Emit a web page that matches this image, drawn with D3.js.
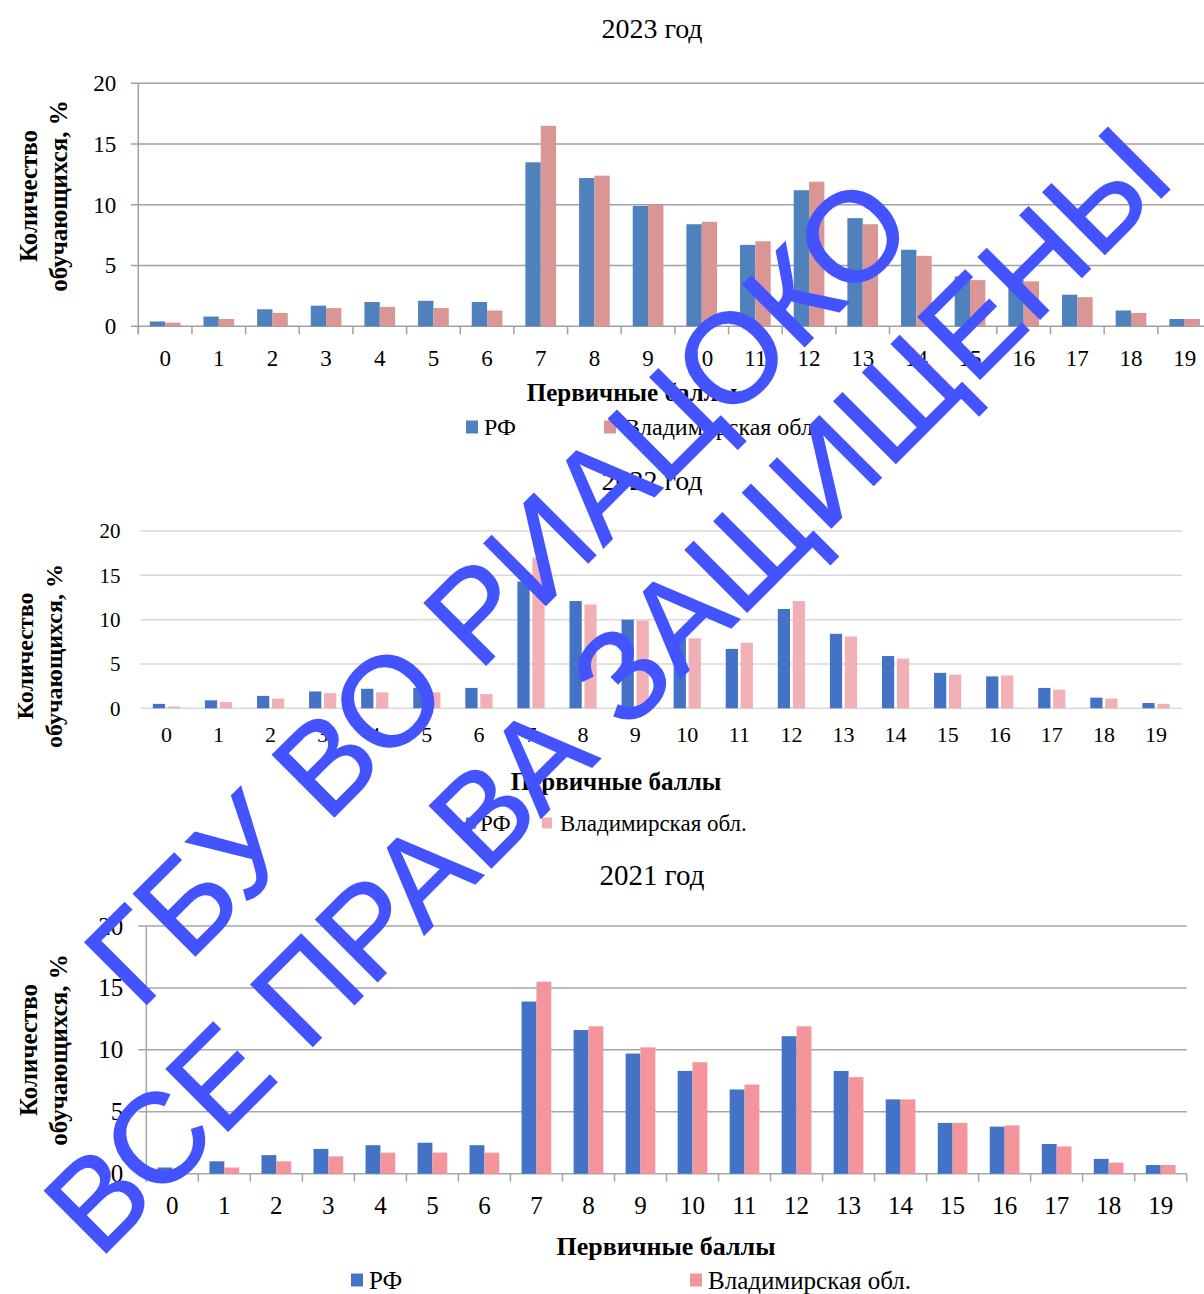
<!DOCTYPE html>
<html>
<head>
<meta charset="utf-8">
<script src="https://cdn.jsdelivr.net/npm/d3@7"></script>
<style>
  html, body { margin: 0; padding: 0; background: #fff; }
  svg { display: block; }
  text { font-family: "Liberation Serif", "Times New Roman", serif; }
</style>
</head>
<body>
<svg id="chart" width="1204" height="1294"></svg>
<script>
// ---------------- DATA ----------------
const categories = ["0","1","2","3","4","5","6","7","8","9","10","11","12","13","14","15","16","17","18","19"];
const yTickValues = [0, 5, 10, 15, 20];
const seriesNames = ["РФ", "Владимирская обл."];
const chartTitles = ["2023 год", "2022 год", "2021 год"];
const xAxisTitle = "Первичные баллы";
const yAxisTitleLines = ["Количество", "обучающихся, %"];

const rf2023   = [0.4, 0.8, 1.4, 1.7, 2.0, 2.1, 2.0, 13.5, 12.2, 9.9, 8.4, 6.7, 11.2, 8.9, 6.3, 4.1, 3.8, 2.6, 1.3, 0.6];
const vlad2023 = [0.3, 0.6, 1.1, 1.5, 1.6, 1.5, 1.3, 16.5, 12.4, 10.0, 8.6, 7.0, 11.9, 8.4, 5.8, 3.8, 3.7, 2.4, 1.1, 0.6];

const rf2022   = [0.5, 0.9, 1.4, 1.9, 2.2, 2.3, 2.3, 14.3, 12.1, 10.0, 8.2, 6.7, 11.2, 8.4, 5.9, 4.0, 3.6, 2.3, 1.2, 0.6];
const vlad2022 = [0.2, 0.7, 1.1, 1.7, 1.8, 1.8, 1.6, 17.0, 11.7, 9.9, 7.9, 7.4, 12.1, 8.1, 5.6, 3.8, 3.7, 2.1, 1.1, 0.5];

const rf2021   = [0.5, 1.0, 1.5, 2.0, 2.3, 2.5, 2.3, 13.9, 11.6, 9.7, 8.3, 6.8, 11.1, 8.3, 6.0, 4.1, 3.8, 2.4, 1.2, 0.7];
const vlad2021 = [0.2, 0.5, 1.0, 1.4, 1.7, 1.7, 1.7, 15.5, 11.9, 10.2, 9.0, 7.2, 11.9, 7.8, 6.0, 4.1, 3.9, 2.2, 0.9, 0.7];

const watermarkLines = ["ГБУ ВО РИАЦОКО", "ВСЕ ПРАВА ЗАЩИЩЕНЫ"];

// ---------------- LAYOUT / STYLE ----------------
const charts = [
  {
    title: chartTitles[0], titleY: 28, titleSize: 28,
    rf: rf2023, vl: vlad2023,
    colors: ["#4F81BD", "#D99694"],
    left: 138.3, right: 1211.5, y0: 326.3, y20: 83.3,
    gridLeft: 131, gridRight: 1211.5, gridColor: "#A0A0A0",
    axisLine: true, xTicks: true, tickLen: 8,
    barMode: "touch",
    yLabelSize: 23, yPad: 22, xLabelSize: 23, xPad: 23,
    yTitleSize: 25, yTitleX: [37, 67], yTitleY: 196,
    xTitleX: 632, xTitleY: 392, xTitleSize: 25,
    legendY: 427, legendSize: 24, sq: 13,
    legendSq: [466, 604], legendText: [484, 624]
  },
  {
    title: chartTitles[1], titleY: 480, titleSize: 28,
    rf: rf2022, vl: vlad2022,
    colors: ["#4472C4", "#F0B0B5"],
    left: 140.4, right: 1182, y0: 708.3, y20: 531,
    gridLeft: 140.4, gridRight: 1182, gridColor: "#D9D9D9",
    axisLine: false, xTicks: false, tickLen: 0,
    barMode: "gap",
    yLabelSize: 21, yPad: 20, xLabelSize: 22, xPad: 18,
    yTitleSize: 24, yTitleX: [33, 62], yTitleY: 656,
    xTitleX: 616, xTitleY: 781, xTitleSize: 25,
    legendY: 823, legendSize: 23, sq: 11,
    legendSq: [466, 542], legendText: [480, 560]
  },
  {
    title: chartTitles[2], titleY: 875, titleSize: 29,
    rf: rf2021, vl: vlad2021,
    colors: ["#4472C4", "#F4959B"],
    left: 146.3, right: 1186.7, y0: 1173.7, y20: 926,
    gridLeft: 138.3, gridRight: 1186.7, gridColor: "#A6A6A6",
    axisLine: true, xTicks: true, tickLen: 8,
    barMode: "touch",
    yLabelSize: 25, yPad: 23, xLabelSize: 25, xPad: 23,
    yTitleSize: 25, yTitleX: [37, 67], yTitleY: 1050,
    xTitleX: 666, xTitleY: 1246, xTitleSize: 26,
    legendY: 1280, legendSize: 25, sq: 13,
    legendSq: [351, 690], legendText: [369, 708]
  }
];

const svg = d3.select("#chart");

function drawChart(c) {
  const g = svg.append("g");
  const x = d3.scaleBand().domain(categories).range([c.left, c.right]).paddingInner(0).paddingOuter(0);
  const y = d3.scaleLinear().domain([0, 20]).range([c.y0, c.y20]);

  // title
  g.append("text").attr("x", 652).attr("y", c.titleY)
    .attr("text-anchor", "middle").attr("dominant-baseline", "central")
    .attr("font-size", c.titleSize).attr("fill", "#000").text(c.title);

  // gridlines
  g.append("g").selectAll("line").data(yTickValues).join("line")
    .attr("x1", c.gridLeft).attr("x2", c.gridRight)
    .attr("y1", d => y(d)).attr("y2", d => y(d))
    .attr("stroke", c.gridColor).attr("stroke-width", 1.5);

  // y axis labels
  const yAxis = d3.axisLeft(y).tickValues(yTickValues).tickSize(0).tickPadding(c.yPad).tickFormat(d3.format("d"));
  const ya = g.append("g").attr("transform", `translate(${c.left},0)`).call(yAxis);
  ya.select(".domain").remove();
  ya.selectAll("text").attr("font-size", c.yLabelSize).attr("fill", "#000")
    .attr("font-family", "Liberation Serif, Times New Roman, serif");

  // x axis labels
  const xAxis = d3.axisBottom(x).tickSize(0).tickPadding(c.xPad);
  const xa = g.append("g").attr("transform", `translate(0,${c.y0})`).call(xAxis);
  xa.select(".domain").remove();
  xa.selectAll("text").attr("font-size", c.xLabelSize).attr("fill", "#000")
    .attr("font-family", "Liberation Serif, Times New Roman, serif");

  // bars
  const bw = c.barMode === "touch" ? x.bandwidth() / 3.5 : x.bandwidth() * 0.235;
  const gap = c.barMode === "touch" ? 0 : x.bandwidth() * 0.052;
  const series = [c.rf, c.vl];
  series.forEach((vals, si) => {
    g.append("g").selectAll("rect").data(vals).join("rect")
      .attr("x", (d, i) => {
        const cx = x(categories[i]) + x.bandwidth() / 2;
        return si === 0 ? cx - gap / 2 - bw : cx + gap / 2;
      })
      .attr("y", d => y(d))
      .attr("width", bw)
      .attr("height", d => y(0) - y(d))
      .attr("fill", c.colors[si]);
  });

  // axis line and ticks
  if (c.axisLine) {
    g.append("line").attr("x1", c.left).attr("x2", c.left)
      .attr("y1", c.y20).attr("y2", c.y0 + c.tickLen)
      .attr("stroke", c.gridColor).attr("stroke-width", 1.5);
  }
  if (c.xTicks) {
    const bounds = categories.map(k => x(k)).concat([c.right]);
    g.append("g").selectAll("line").data(bounds).join("line")
      .attr("x1", d => d).attr("x2", d => d)
      .attr("y1", c.y0).attr("y2", c.y0 + c.tickLen)
      .attr("stroke", c.gridColor).attr("stroke-width", 1.5);
  }

  // axis titles
  const yt = g.append("g").attr("font-weight", "bold").attr("font-size", c.yTitleSize);
  yAxisTitleLines.forEach((t, i) => {
    yt.append("text")
      .attr("transform", `translate(${c.yTitleX[i]},${c.yTitleY}) rotate(-90)`)
      .attr("text-anchor", "middle").attr("fill", "#000").text(t);
  });
  g.append("text").attr("x", c.xTitleX).attr("y", c.xTitleY)
    .attr("text-anchor", "middle").attr("dominant-baseline", "central")
    .attr("font-weight", "bold").attr("font-size", c.xTitleSize).attr("fill", "#000")
    .text(xAxisTitle);

  // legend
  seriesNames.forEach((name, i) => {
    g.append("rect").attr("x", c.legendSq[i]).attr("y", c.legendY - c.sq / 2)
      .attr("width", c.sq - 1).attr("height", c.sq).attr("fill", c.colors[i]);
    g.append("text").attr("x", c.legendText[i]).attr("y", c.legendY)
      .attr("dominant-baseline", "central").attr("font-size", c.legendSize)
      .attr("fill", "#000").text(name);
  });
}

charts.forEach(drawChart);

// watermark
const wm = svg.append("g")
  .attr("fill", "#4353FF")
  .attr("stroke", "#4353FF")
  .attr("stroke-width", 1.5)
  .attr("font-size", 127);
const wmPos = [[529, 622], [638, 721]];
watermarkLines.forEach((t, i) => {
  wm.append("text")
    .attr("transform", `translate(${wmPos[i][0]},${wmPos[i][1]}) rotate(-45)`)
    .attr("text-anchor", "middle")
    .style("font-family", "'Liberation Sans', Arial, sans-serif")
    .text(t);
});
</script>
</body>
</html>
